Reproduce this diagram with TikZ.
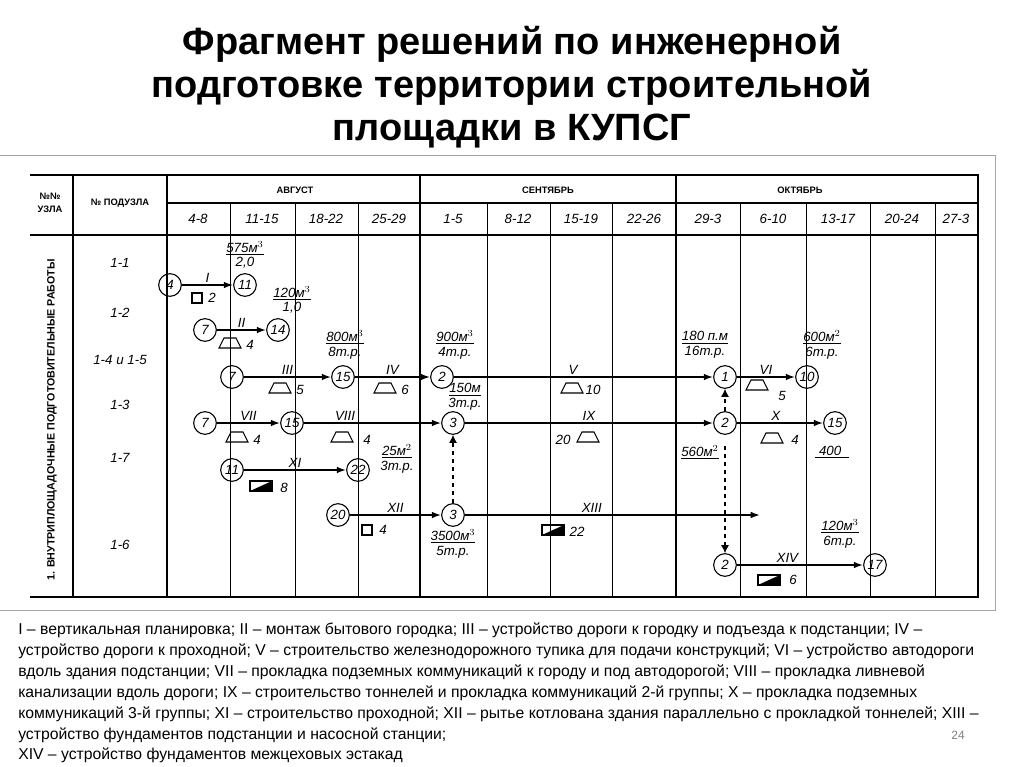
\documentclass[tikz,border=0pt]{standalone}
\usepackage{fontspec}
\setmainfont{Liberation Sans}
\usetikzlibrary{arrows.meta}
\newcommand{\frc}[2]{\shortstack{\underline{#1}\\[-1pt]#2}}
\tikzset{
  st/.style={circle,draw,thick,minimum size=17pt,inner sep=0pt,font=\itshape\normalsize},
  wk/.style={very thick,-{Latex[length=7pt,width=5pt]}},
  dl/.style={thick,dashed,-{Latex[length=6pt,width=6pt]}},
  lb/.style={font=\itshape\normalsize,inner sep=1pt},
  hd/.style={font=\bfseries\scriptsize},
  wkd/.style={font=\itshape\normalsize},
  pics/trap/.style={code={\draw[thick] (-11,5)--(11,5)--(6,-5)--(-6,-5)--cycle;}},
  pics/sq/.style={code={\draw[thick] (-5,-5) rectangle (5,5);}},
  pics/blk/.style={code={\draw[thick] (-11,-5) rectangle (11,5);\fill (-11,5)--(11,5)--(11,-5)--cycle;}}
}
\begin{document}
\begin{tikzpicture}[x=0.75pt,y=-0.75pt]
\useasboundingbox (0,0) rectangle (1024,767);
% title
\node[font=\bfseries\fontsize{28.5}{32}\selectfont,align=center] (title) at (512,87)
  {Фрагмент решений по инженерной\\подготовке территории строительной\\площадки в КУПСГ};
% frame
\draw[gray!70] (0,155) -- (995,155) -- (995,610) -- (0,610);
% table
\draw[thick] (30,175) -- (978,175) -- (978,597) -- (30,597);
\draw[thick] (30,235) -- (978,235);
\draw[thick] (167,203) -- (978,203);
\draw[thick] (73,175) -- (73,597);
\draw[thick] (167,175) -- (167,597);
\draw[line width=2.2pt] (420,175) -- (420,597);
\draw[line width=2.2pt] (676,175) -- (676,597);
\foreach \x in {230,295,358,487,550,612,740,806,870,935}
  \draw (\x,203) -- (\x,597);
\node[hd,align=center] (uzel) at (50,203) {№№\\[2pt]УЗЛА};
\node[hd] (poduzel) at (120,203) {№ ПОДУЗЛА};
\node[hd] (aug) at (295,190) {АВГУСТ};
\node[hd] (sep) at (548,190) {СЕНТЯБРЬ};
\node[hd] (oct) at (800,190) {ОКТЯБРЬ};
\foreach \x/\t in {198/4-8,262/11-15,326/18-22,389/25-29,453/1-5,518/8-12,581/15-19,644/22-26,708/29-3,773/6-10,838/13-17,902/20-24,956/27-3}
  \node[wkd] at (\x,219) {\t};
\node[font=\bfseries\footnotesize,rotate=90] (works) at (52,420) {1. ВНУТРИПЛОЩАДОЧНЫЕ ПОДГОТОВИТЕЛЬНЫЕ РАБОТЫ};
\foreach \y/\t in {263/1-1,313/1-2,360/1-4 и 1-5,405/1-3,458/1-7,545/1-6}
  \node[wkd] at (120,\y) {\t};
% nodes
\node[st] (a4) at (170,285) {4};
\node[st] (a11) at (245,285) {11};
\node[st] (b7) at (205,330) {7};
\node[st] (b14) at (278,330) {14};
\node[st] (c7) at (232,377) {7};
\node[st] (c15) at (343,377) {15};
\node[st] (c2) at (442,377) {2};
\node[st] (c1) at (725,377) {1};
\node[st] (c10) at (807,377) {10};
\node[st] (d7) at (205,423) {7};
\node[st] (d15) at (292,423) {15};
\node[st] (d3) at (453,423) {3};
\node[st] (d2) at (725,423) {2};
\node[st] (d15b) at (835,423) {15};
\node[st] (e11) at (232,470) {11};
\node[st] (e22) at (358,470) {22};
\node[st] (f20) at (338,515) {20};
\node[st] (f3) at (453,515) {3};
\coordinate (fend) at (760,515);
\node[st] (g2) at (725,565) {2};
\node[st] (g17) at (875,565) {17};
% works
\draw[wk] (a4) -- node[lb,above] {I} (a11);
\draw[wk] (b7) -- node[lb,above] {II} (b14);
\draw[wk] (c7) -- node[lb,above] {III} (c15);
\draw[wk] (c15) -- node[lb,above] {IV} (c2);
\draw[wk] (c2) -- node[lb,above,pos=.46] {V} (c1);
\draw[wk] (c1) -- node[lb,above] {VI} (c10);
\draw[wk] (d7) -- node[lb,above] {VII} (d15);
\draw[wk] (d15) -- node[lb,above,pos=.3] {VIII} (d3);
\draw[wk] (d3) -- node[lb,above,pos=.5] {IX} (d2);
\draw[wk] (d2) -- node[lb,above,pos=.45] {X} (d15b);
\draw[wk] (e11) -- node[lb,above] {XI} (e22);
\draw[wk] (f20) -- node[lb,above] {XII} (f3);
\draw[wk] (f3) -- node[lb,above,pos=.43] {XIII} (fend);
\draw[wk] (g2) -- node[lb,above,pos=.4] {XIV} (g17);
\draw[dl] (f3) -- (d3);
\draw[dl] (d2) -- (c1);
\draw[dl] ([yshift=-8]d2.south) -- (g2);
% volumes
\node[lb] (v1) at (245,255) {\frc{575м$^3$}{2,0}};
\node[lb] (v2) at (292,300) {\frc{120м$^3$}{1,0}};
\node[lb] (v3) at (345,345) {\frc{800м$^3$}{8т.р.}};
\node[lb] (v4) at (455,345) {\frc{900м$^3$}{4т.р.}};
\node[lb] (v5) at (705,345) {\frc{180 п.м}{16т.р.}};
\node[lb] (v6) at (822,345) {\frc{600м$^2$}{6т.р.}};
\node[lb] (v7) at (465,397) {\frc{150м}{3т.р.}};
\node[lb] (v8) at (397,459) {\frc{25м$^2$}{3т.р.}};
\node[lb] (v9) at (453,544) {\frc{3500м$^3$}{5т.р.}};
\node[lb] (v10) at (840,534) {\frc{120м$^3$}{6т.р.}};
\node[lb] (v11) at (700,452) {\underline{560м$^2$}};
\node[lb] (v12) at (832,452) {\underline{\;400\;\;}};
% machines
\pic at (197,298) {sq}; \node[lb] at (212,298) {2};
\pic at (230,343) {trap}; \node[lb] at (250,345) {4};
\pic at (280,388) {trap}; \node[lb] at (300,390) {5};
\pic at (385,388) {trap}; \node[lb] at (405,390) {6};
\pic at (572,388) {trap}; \node[lb] at (593,390) {10};
\pic at (757,385) {trap}; \node[lb] at (782,396) {5};
\pic at (237,437) {trap}; \node[lb] at (257,440) {4};
\pic at (342,437) {trap}; \node[lb] at (367,440) {4};
\node[lb] at (563,440) {20}; \pic at (588,437) {trap};
\pic at (772,438) {trap}; \node[lb] at (795,440) {4};
\pic at (261,486) {blk}; \node[lb] at (284,488) {8};
\pic at (367,530) {sq}; \node[lb] at (383,530) {4};
\pic at (553,530) {blk}; \node[lb] at (577,532) {22};
\pic at (769,580) {blk}; \node[lb] at (793,580) {6};
% legend
\foreach \y/\t in {
630/{I – вертикальная планировка; II – монтаж бытового городка; III – устройство дороги к городку и подъезда к подстанции; IV –},
651/{устройство дороги к проходной; V – строительство железнодорожного тупика для подачи конструкций; VI – устройство автодороги},
672/{вдоль здания подстанции; VII – прокладка подземных коммуникаций к городу и под автодорогой; VIII – прокладка ливневой},
693/{канализации вдоль дороги; IX – строительство тоннелей и прокладка коммуникаций 2-й группы; X – прокладка подземных},
714/{коммуникаций 3-й группы; XI – строительство проходной; XII – рытье котлована здания параллельно с прокладкой тоннелей; XIII –},
735/{устройство фундаментов подстанции и насосной станции;},
755/{XIV – устройство фундаментов межцеховых эстакад}}
  \node[anchor=west,inner sep=0pt,font=\fontsize{11.8}{14}\selectfont] at (18,\y) {\t};
\node[gray,font=\small] (page) at (958,735) {24};
\end{tikzpicture}
\end{document}
